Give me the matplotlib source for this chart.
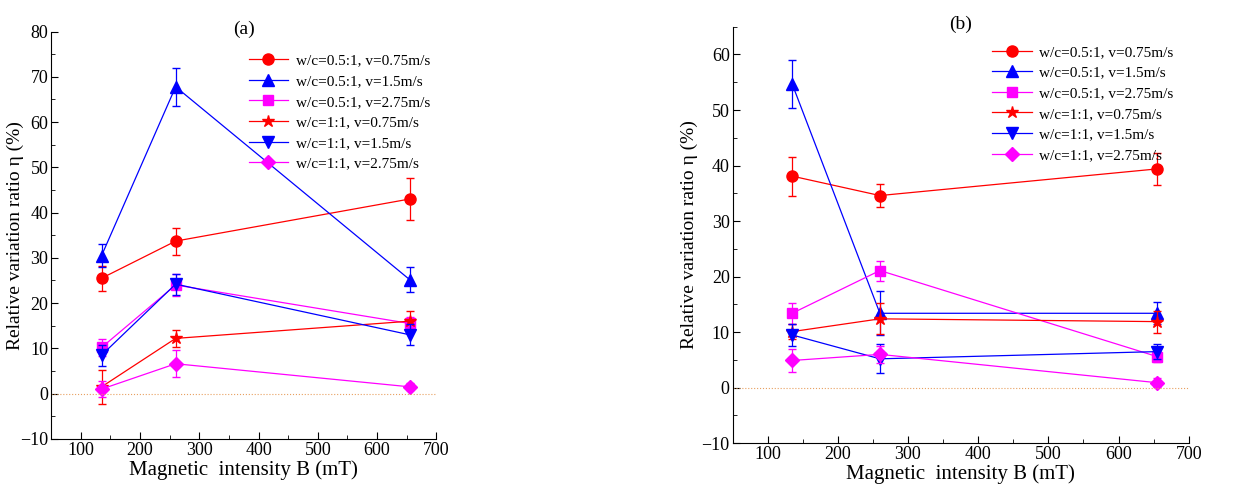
import numpy as np
import matplotlib
matplotlib.use("Agg")
import matplotlib.pyplot as plt

plt.rcParams["font.family"] = ["Liberation Serif", "DejaVu Serif"]

B = [135, 260, 655]
labels = ["w/c=0.5:1, v=0.75m/s", "w/c=0.5:1, v=1.5m/s", "w/c=0.5:1, v=2.75m/s",
          "w/c=1:1, v=0.75m/s", "w/c=1:1, v=1.5m/s", "w/c=1:1, v=2.75m/s"]
colors = ["#ff0000", "#0000ff", "#ff00ff", "#ff0000", "#0000ff", "#ff00ff"]
markers = ["o", "^", "s", "*", "v", "D"]
sizes = [8, 8, 7, 9, 8, 7]

a_vals = [[25.5, 33.7, 43.0], [30.5, 67.8, 25.2], [10.2, 24.0, 15.5],
          [1.5, 12.2, 16.0], [8.5, 24.2, 13.0], [1.0, 6.6, 1.5]]
a_err = [[2.8, 3.0, 4.6], [2.5, 4.2, 2.7], [1.8, 2.4, 1.5],
         [3.7, 1.8, 2.3], [2.3, 2.3, 2.3], [1.8, 3.0, 0.8]]
b_vals = [[38.1, 34.6, 39.4], [54.7, 13.4, 13.4], [13.4, 21.1, 5.6],
          [10.1, 12.4, 11.9], [9.5, 5.2, 6.5], [4.9, 6.0, 0.9]]
b_err = [[3.5, 2.1, 2.9], [4.3, 4.0, 2.0], [1.9, 1.8, 1.0],
         [1.3, 2.8, 2.0], [2.0, 2.6, 1.3], [2.1, 1.5, 0.8]]

fig = plt.figure(figsize=(12.5, 4.86), dpi=100)
ax_a = fig.add_axes([0.041, 0.097, 0.308, 0.838])
ax_b = fig.add_axes([0.586, 0.088, 0.365, 0.857])


def draw(ax, vals, errs, ylim, yticks, tag, tag_y, leg_anchor, ylab_x):
    for v, e, c, m, s, l in zip(vals, errs, colors, markers, sizes, labels):
        ax.errorbar(B, v, yerr=e, color=c, fmt="none", elinewidth=0.9,
                    capsize=3)
        ax.plot(B, v, color=c, marker=m, markersize=s, lw=0.9, label=l)
    ax.axhline(0, color="#e8a060", lw=0.8, ls=":")
    ax.set_xlim(50, 700)
    ax.set_ylim(*ylim)
    ax.set_yticks(yticks)
    ax.set_xticks(range(100, 701, 100))
    ax.set_xticks(range(50, 701, 100), minor=True)
    ax.set_yticks(np.arange(ylim[0], ylim[1] + 0.1, 5), minor=True)
    ax.spines["top"].set_visible(False)
    ax.spines["right"].set_visible(False)
    ax.tick_params(direction="in", labelsize=13, length=5, pad=2)
    ax.tick_params(which="minor", direction="in", length=3)
    ax.set_xlabel("Magnetic  intensity B (mT)", fontsize=15, labelpad=1)
    ax.set_ylabel("Relative variation ratio η (%)", fontsize=14)
    ax.yaxis.set_label_coords(ylab_x, 0.5)
    ax.text(0.5, tag_y, tag, transform=ax.transAxes, ha="center", va="center",
            fontsize=14)
    ax.legend(loc="upper right", bbox_to_anchor=leg_anchor, frameon=False,
              fontsize=11, handlelength=2.6, labelspacing=0.45,
              handletextpad=0.5, borderaxespad=0)


draw(ax_a, a_vals, a_err, (-10, 80), range(-10, 81, 10), "(a)", 1.005,
     (1.0, 0.96), -0.072)
draw(ax_b, b_vals, b_err, (-10, 65), range(-10, 61, 10), "(b)", 1.005,
     (0.98, 0.97), -0.075)

fig.savefig("out.png", dpi=100)
